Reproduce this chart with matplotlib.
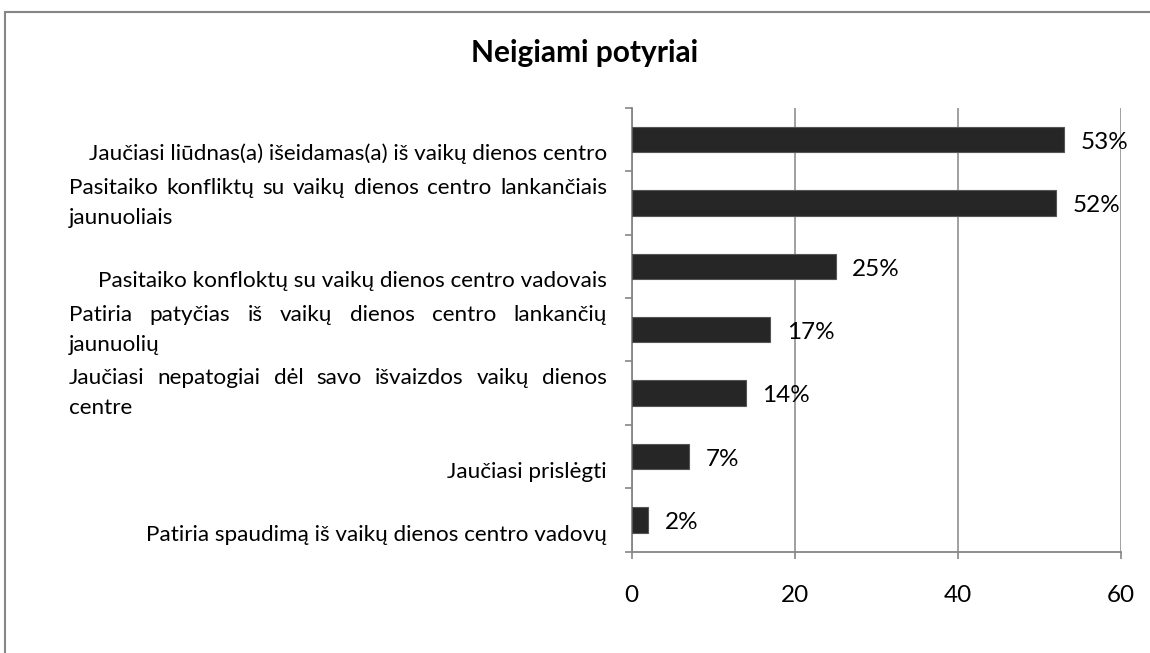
import matplotlib
matplotlib.use('Agg')
import matplotlib.pyplot as plt
from matplotlib.transforms import blended_transform_factory
from matplotlib.patches import Rectangle

plt.rcParams['font.family'] = ['Lato', 'DejaVu Sans']

title = 'Neigiami potyriai'
categories = [
    'Jaučiasi liūdnas(a) išeidamas(a) iš vaikų dienos centro',
    'Pasitaiko konfliktų su vaikų dienos centro lankančiais\njaunuoliais',
    'Pasitaiko konfloktų su vaikų dienos centro vadovais',
    'Patiria patyčias iš vaikų dienos centro lankančių\njaunuolių',
    'Jaučiasi nepatogiai dėl savo išvaizdos vaikų dienos\ncentre',
    'Jaučiasi prislėgti',
    'Patiria spaudimą iš vaikų dienos centro vadovų',
]
values = [53, 52, 25, 17, 14, 7, 2]
xticks = [0, 20, 40, 60]

W, H = 1150, 653
gray = '#868686'
fs = 16.2

fig = plt.figure(figsize=(W / 100, H / 100), dpi=100)
ax_top, ax_bot, ax_l, ax_r = 107.7, 551.7, 631.7, 1121
ax = fig.add_axes([ax_l / W, 1 - ax_bot / H, (ax_r - ax_l) / W, (ax_bot - ax_top) / H])

n = len(values)
ax.barh(range(n), values, height=0.4, color='#262626', edgecolor='#555555',
        linewidth=0.8, zorder=3)
ax.set_ylim(n - 0.5, -0.5)
ax.set_xlim(0, 60)
ax.set_xticks(xticks)
ax.set_yticks([i - 0.5 for i in range(n + 1)])
ax.set_yticklabels([])
ax.grid(axis='x', color=gray, lw=1.1)
ax.set_axisbelow(True)
for s in ['top', 'right']:
    ax.spines[s].set_visible(False)
for s in ['left', 'bottom']:
    ax.spines[s].set_color(gray)
    ax.spines[s].set_linewidth(1.3)
ax.tick_params(axis='both', color=gray, length=5, width=1.2)
ax.tick_params(axis='x', pad=19, labelsize=17.5)

# value labels
for i, v in enumerate(values):
    ax.annotate(f'{v}%', (v, i), xytext=(12, -2), textcoords='offset points',
                va='center', ha='left', fontsize=17.5)

# category labels (justified like the original)
renderer = fig.canvas.get_renderer()
trans = blended_transform_factory(fig.transFigure, ax.transData)
px_per_unit = (ax_bot - ax_top) / n
x0, x1 = 69 / W, 607 / W
for i, cat in enumerate(categories):
    lines = cat.split('\n')
    m = len(lines)
    for k, line in enumerate(lines):
        yy = i + (16 - 30 * (m - 1 - k) + 5) / px_per_unit
        if m == 1:
            ax.text(x1, yy, line, transform=trans, ha='right', va='baseline', fontsize=fs)
        elif k < m - 1:
            words = line.split()
            ts = [ax.text(x0, yy, w, transform=trans, ha='left', va='baseline', fontsize=fs)
                  for w in words]
            widths = [t.get_window_extent(renderer).width / W for t in ts]
            gap = (x1 - x0 - sum(widths)) / (len(words) - 1)
            x = x0
            for t, w in zip(ts, widths):
                t.set_x(x)
                x += w + gap
        else:
            ax.text(x0, yy, line, transform=trans, ha='left', va='baseline', fontsize=fs)

fig.text(585 / W, 1 - 53 / H, title, ha='center', va='center', fontsize=21.5, fontweight='bold')

fig.patches.append(Rectangle((4.5 / W, -0.05), 1.2, 1 - 12 / H + 0.05, transform=fig.transFigure,
                             fill=False, edgecolor=gray, lw=1.5))

fig.savefig('out.png', dpi=100)
